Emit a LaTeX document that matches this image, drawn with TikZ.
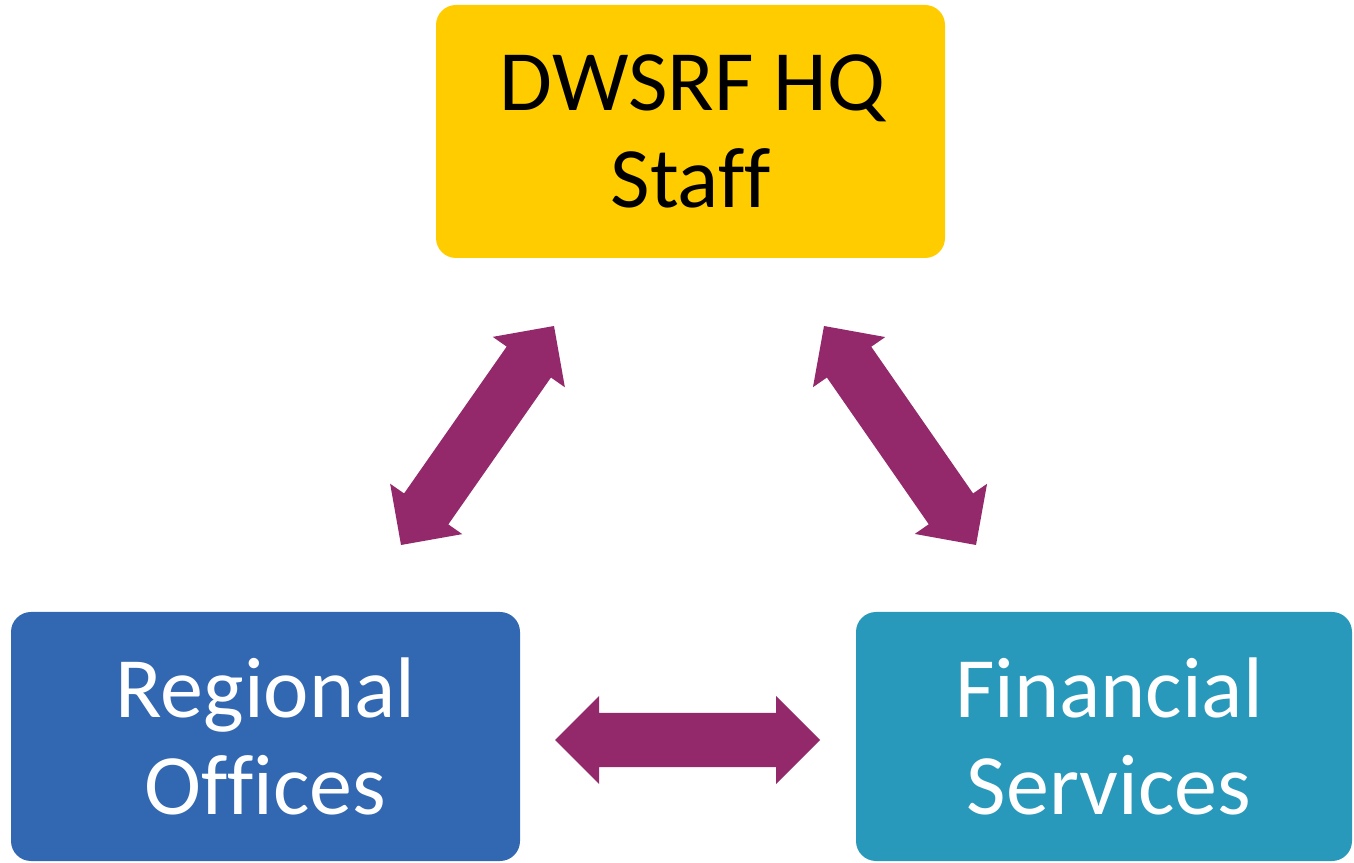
\documentclass[tikz,border=0pt]{standalone}
\usepackage{fontspec}
\setmainfont{Carlito}[Ligatures=NoCommon]
\usetikzlibrary{calc}
\definecolor{hqyellow}{HTML}{FFCC00}
\definecolor{roblue}{HTML}{3267B1}
\definecolor{fsteal}{HTML}{2899BA}
\definecolor{arrowpurple}{HTML}{93296B}
\tikzset{
  box/.style={rounded corners=20pt, inner sep=0pt, align=center,
    font=\fontsize{86}{97}\selectfont},
  arrowfill/.style={fill=arrowpurple}
}
\newcommand\blockarrow[3]{%
  \coordinate (#1-ha) at ($(#2)!44pt!(#3)$);
  \coordinate (#1-hb) at ($(#3)!44pt!(#2)$);
  \fill[arrowfill] (#2) -- ($(#1-ha)!44pt!90:(#3)$) -- ($(#1-ha)!27pt!90:(#3)$)
    -- ($(#1-hb)!27pt!-90:(#2)$) -- ($(#1-hb)!44pt!-90:(#2)$) -- (#3)
    -- ($(#1-hb)!44pt!90:(#2)$) -- ($(#1-hb)!27pt!90:(#2)$)
    -- ($(#1-ha)!27pt!-90:(#3)$) -- ($(#1-ha)!44pt!-90:(#3)$) -- cycle;
}
\begin{document}
\begin{tikzpicture}[x=1pt,y=1pt]
\useasboundingbox (0,0) rectangle (1354,862);
% boxes
\node[box, fill=hqyellow, text=black, minimum width=509pt, minimum height=253pt]
  (hq) at (690.5,730.5) {\hspace*{4pt}DWSRF HQ\\Staff};
\node[box, fill=roblue, text=white, minimum width=509pt, minimum height=249pt]
  (ro) at (265.5,125.5) {Regional\\Offices};
\node[box, fill=fsteal, text=white, minimum width=496pt, minimum height=249pt]
  (fs) at (1104,125.5) {\hspace*{10pt}Financial\\\hspace*{10pt}Services};
% arrow end points
\coordinate (l1) at (401,317);
\coordinate (l2) at (554,536);
\coordinate (r1) at (824,536);
\coordinate (r2) at (976,317);
\coordinate (h1) at (555,122);
\coordinate (h2) at (820,122);
\blockarrow{la}{l1}{l2}
\blockarrow{ra}{r1}{r2}
\blockarrow{ha}{h1}{h2}
\end{tikzpicture}
\end{document}
